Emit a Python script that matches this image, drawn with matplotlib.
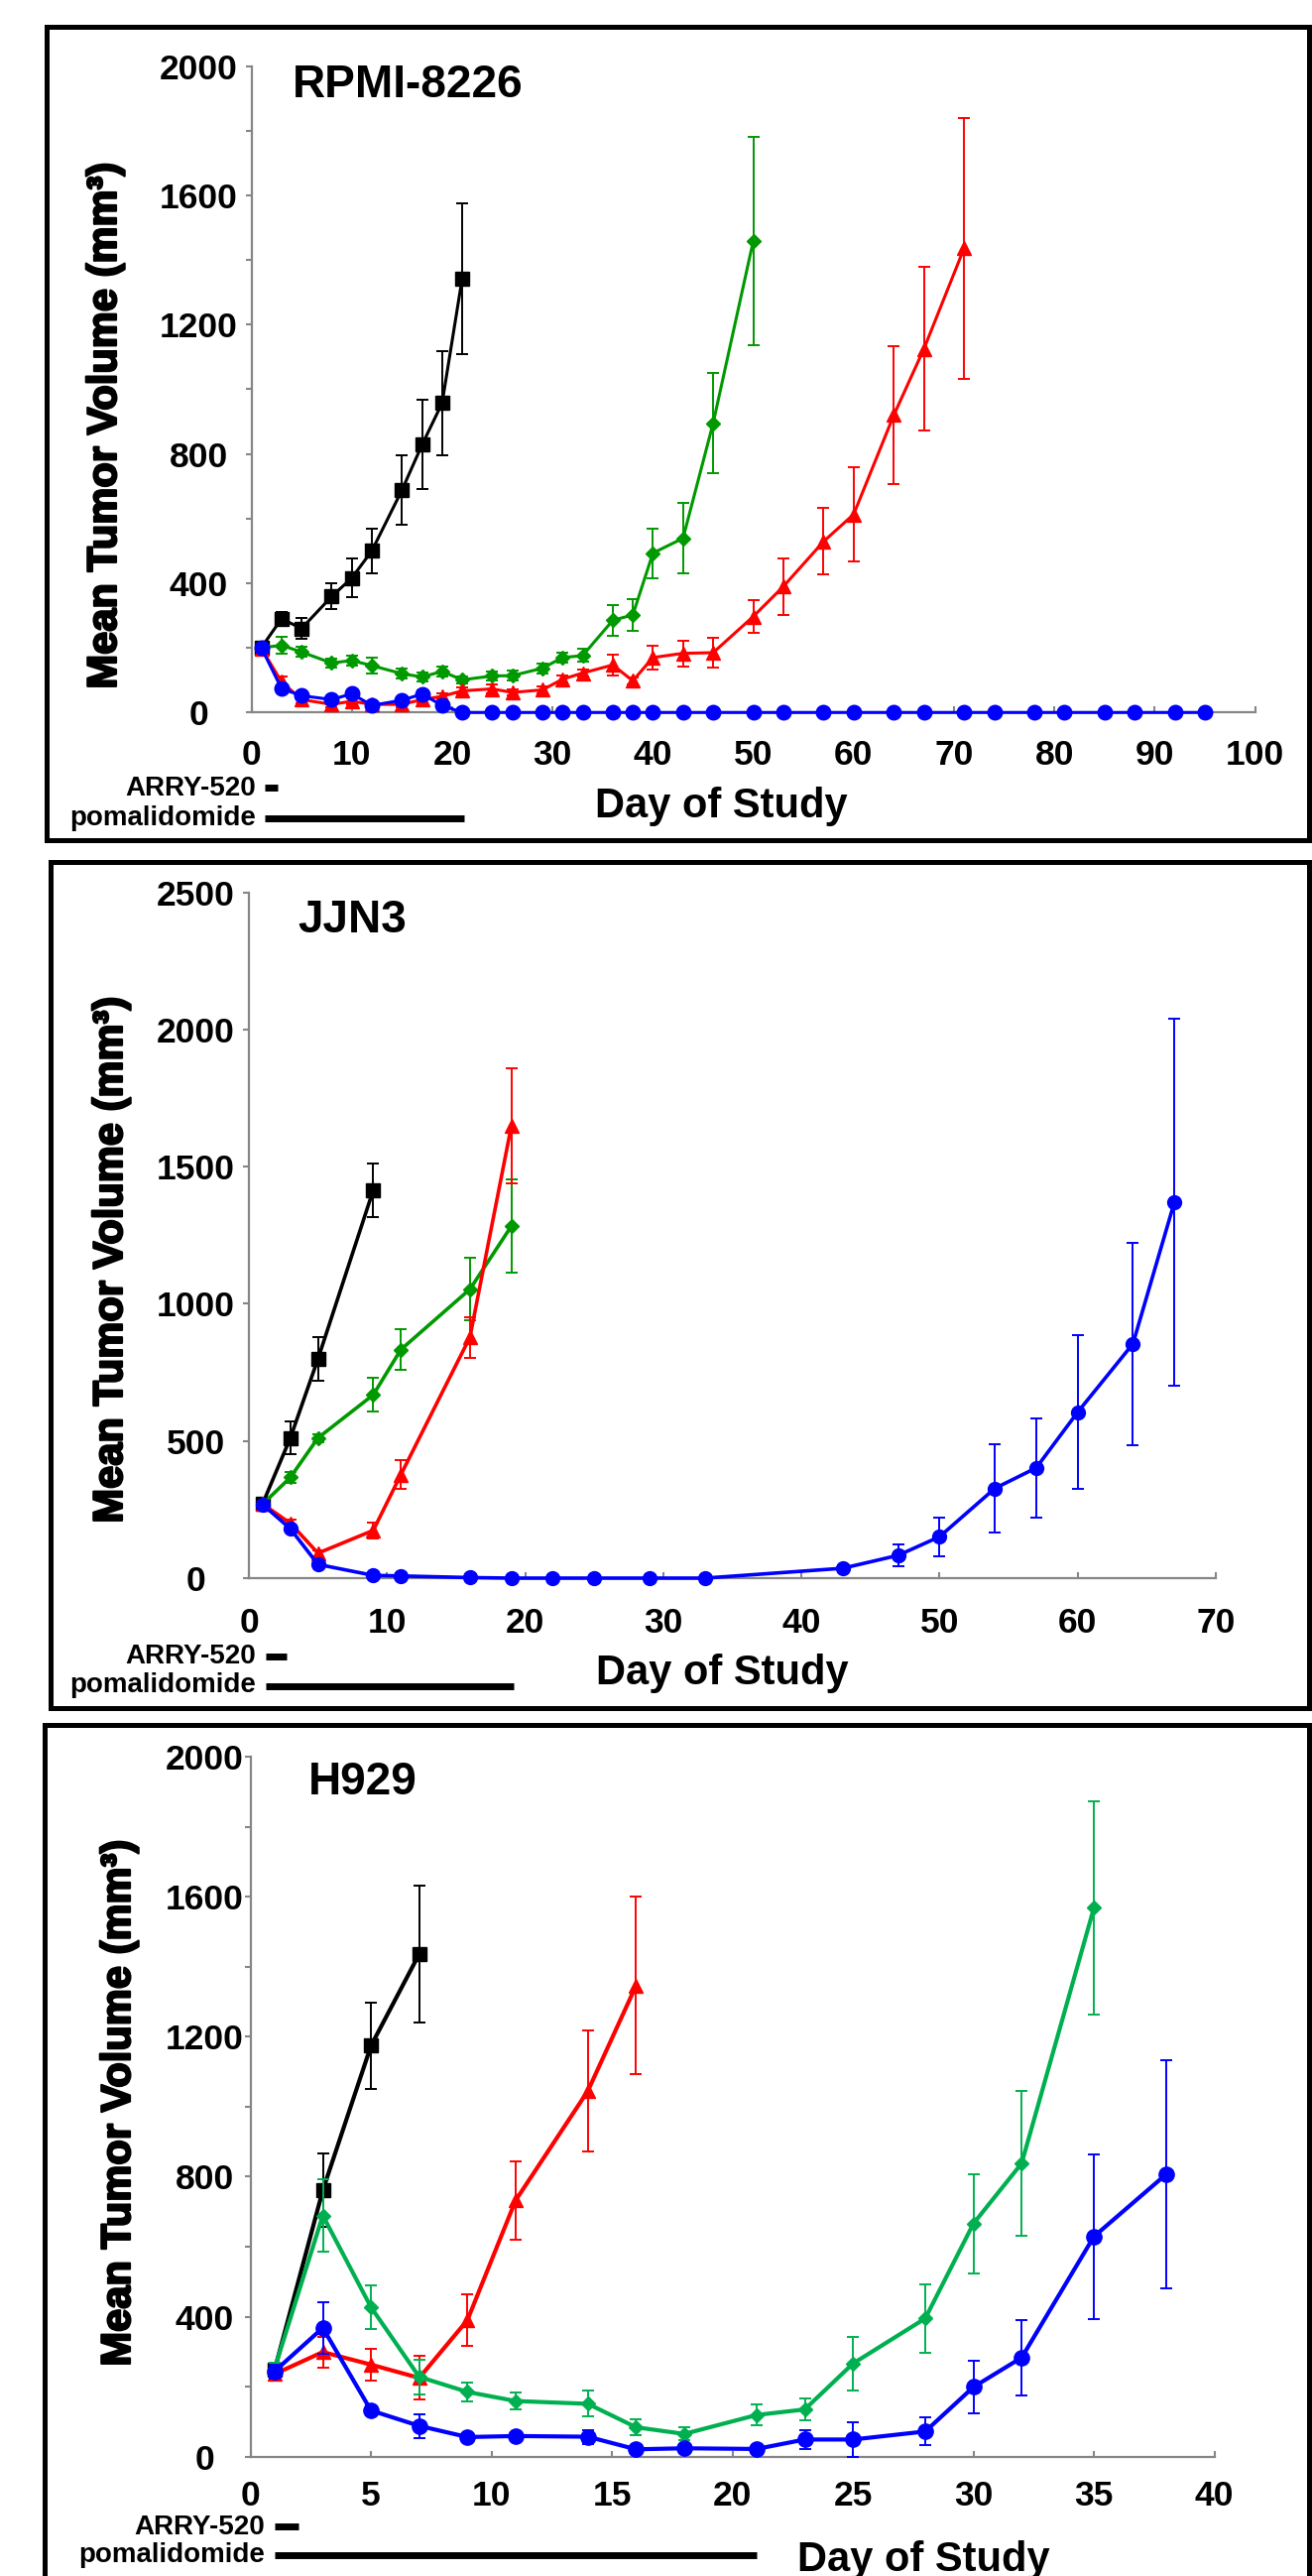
import matplotlib
matplotlib.use("Agg")
import matplotlib.pyplot as plt
import matplotlib.patheffects as pe
from matplotlib.patches import Rectangle
from matplotlib.ticker import MultipleLocator
from matplotlib.transforms import blended_transform_factory

plt.rcParams['font.family'] = ['Liberation Sans', 'DejaVu Sans']
plt.rcParams['font.weight'] = 'bold'

W, H = 1323, 2597
GREY = '#868686'

# ---------------- data ----------------
# Panel 1: RPMI-8226
p1_black_days = [1, 3, 5, 8, 10, 12, 15, 17, 19, 21]
p1_black = [201, 290, 260, 359, 416, 500, 688, 828, 957, 1343]
p1_black_err = [10, 20, 33, 40, 60, 70, 108, 138, 162, 233]

p1_green_days = [1, 3, 5, 8, 10, 12, 15, 17, 19, 21, 24, 26, 29, 31, 33, 36, 38, 40, 43, 46, 50]
p1_green = [200, 208, 187, 153, 161, 145, 120, 110, 127, 101, 113, 114, 137, 170, 176, 285, 302, 493, 539, 895, 1459]
p1_green_err = [10, 25, 15, 15, 15, 25, 15, 15, 15, 10, 15, 15, 15, 15, 20, 47, 50, 77, 108, 156, 322]

p1_red_days = [1, 3, 5, 8, 10, 12, 15, 17, 19, 21, 24, 26, 29, 31, 33, 36, 38, 40, 43, 46, 50, 53, 57, 60, 64, 67, 71]
p1_red = [198, 95, 40, 25, 35, 25, 25, 40, 50, 67, 73, 62, 70, 103, 122, 147, 98, 170, 183, 185, 297, 390, 529, 613, 920, 1125, 1436]
p1_red_err = [10, 15, 10, 10, 10, 10, 10, 10, 10, 10, 15, 10, 10, 10, 10, 33, 10, 38, 40, 45, 50, 88, 103, 145, 214, 254, 403]

p1_blue_days = [1, 3, 5, 8, 10, 12, 15, 17, 19, 21, 24, 26, 29, 31, 33, 36, 38, 40, 43, 46, 50,
                53, 57, 60, 64, 67, 71, 74, 78, 81, 85, 88, 92, 95]
p1_blue = [200, 74, 52, 40, 58, 22, 38, 57, 22, 0, 0, 0, 0, 0, 0, 0, 0, 0, 0, 0, 0,
           0, 0, 0, 0, 0, 0, 0, 0, 0, 0, 0, 0, 0]
p1_blue_err = [8, 8, 8, 8, 10, 8, 8, 10, 8, 0, 0, 0, 0, 0, 0, 0, 0, 0, 0, 0, 0,
               0, 0, 0, 0, 0, 0, 0, 0, 0, 0, 0, 0, 0]

# Panel 2: JJN3
p2_black_days = [1, 3, 5, 9]
p2_black = [272, 511, 799, 1414]
p2_black_err = [10, 59, 81, 97]

p2_green_days = [1, 3, 5, 9, 11, 16, 19]
p2_green = [270, 367, 511, 668, 833, 1053, 1283]
p2_green_err = [10, 20, 15, 62, 74, 113, 170]

p2_red_days = [1, 3, 5, 9, 11, 16, 19]
p2_red = [270, 200, 91, 174, 377, 878, 1648]
p2_red_err = [10, 15, 10, 30, 52, 74, 210]

p2_blue_days = [1, 3, 5, 9, 11, 16, 19, 22, 25, 29, 33, 43, 47, 50, 54, 57, 60, 64, 67]
p2_blue = [268, 180, 50, 10, 8, 2, 0, 0, 0, 0, 0, 36, 83, 151, 327, 402, 605, 854, 1370]
p2_blue_err = [8, 10, 8, 3, 3, 0, 0, 0, 0, 0, 0, 5, 40, 70, 160, 180, 280, 369, 668]

# Panel 3: H929
p3_black_days = [1, 3, 5, 7]
p3_black = [248, 761, 1174, 1436]
p3_black_err = [15, 105, 123, 196]

p3_red_days = [1, 3, 5, 7, 9, 11, 14, 16]
p3_red = [236, 299, 263, 225, 390, 732, 1045, 1346]
p3_red_err = [15, 44, 45, 62, 73, 111, 174, 253]

p3_green_days = [1, 3, 5, 7, 9, 11, 14, 16, 18, 21, 23, 25, 28, 30, 32, 35]
p3_green = [252, 689, 427, 228, 185, 159, 151, 84, 65, 119, 135, 266, 395, 666, 838, 1568]
p3_green_err = [15, 104, 63, 50, 28, 24, 37, 22, 18, 30, 32, 76, 97, 142, 208, 305]

p3_blue_days = [1, 3, 5, 7, 9, 11, 14, 16, 18, 21, 23, 25, 28, 30, 32, 35, 38]
p3_blue = [244, 368, 132, 88, 56, 59, 57, 21, 24, 22, 49, 49, 72, 199, 283, 629, 807]
p3_blue_err = [20, 74, 15, 34, 8, 8, 20, 5, 5, 5, 28, 50, 40, 76, 107, 235, 326]

# dosing schedules (day ranges)
p1_arry = [1.3, 2.6]
p1_poma = [1.3, 21.2]
p2_arry = [1.2, 2.7]
p2_poma = [1.2, 19.2]
p3_arry = [1.0, 2.0]
p3_poma = [1.0, 21.0]

titles = ['RPMI-8226', 'JJN3', 'H929']
ylabel = 'Mean Tumor Volume (mm³)'
xlabel = 'Day of Study'

# ---------------- figure ----------------
fig = plt.figure(figsize=(W / 100, H / 100), dpi=100)


def fx(x):
    return x / W


def fy(y):
    return 1 - y / H


def make_axes(left, right, y0, ytop):
    return fig.add_axes([fx(left), fy(y0), (right - left) / W, (y0 - ytop) / H])


def frame(left, top, right, bottom):
    fig.add_artist(Rectangle((fx(left), fy(bottom)), (right - left) / W, (bottom - top) / H,
                             transform=fig.transFigure, fill=False, edgecolor='black',
                             linewidth=3.6, joinstyle='miter'))


def series(ax, days, vals, err, color, marker, ms, lw, z):
    ax.errorbar(days, vals, yerr=err, color=color, marker=marker, markersize=ms,
                markeredgecolor=color, markerfacecolor=color, linewidth=lw,
                elinewidth=1.4, capsize=4.5, capthick=1.4, clip_on=False, zorder=z)


def style(ax, xmax, xstep, ymax, ymaj, ymin, ypad, xpad):
    ax.set_xlim(0, xmax)
    ax.set_ylim(0, ymax)
    for s in ['top', 'right']:
        ax.spines[s].set_visible(False)
    for s in ['left', 'bottom']:
        ax.spines[s].set_color(GREY)
        ax.spines[s].set_linewidth(1.6)
    ax.xaxis.set_major_locator(MultipleLocator(xstep))
    ax.yaxis.set_major_locator(MultipleLocator(ymaj))
    if ymin:
        ax.yaxis.set_minor_locator(MultipleLocator(ymin))
    ax.tick_params(axis='y', which='both', direction='out', length=4, width=1.5,
                   color=GREY, labelsize=25.5, pad=ypad)
    ax.tick_params(axis='x', which='both', direction='in', length=4, width=1.5,
                   color=GREY, labelsize=25.5, pad=xpad)
    ax.set_facecolor('none')
    plt.setp(ax.get_yticklabels(), ha='center', fontweight='bold')
    plt.setp(ax.get_xticklabels(), fontweight='bold')


def dosing(ax, arry, poma, y_arry, y_poma, text_right, ty_arry, ty_poma):
    tr = blended_transform_factory(ax.transData, fig.transFigure)
    ax.plot(arry, [fy(y_arry)] * 2, transform=tr, color='black', lw=5,
            solid_capstyle='butt', clip_on=False)
    ax.plot(poma, [fy(y_poma)] * 2, transform=tr, color='black', lw=5,
            solid_capstyle='butt', clip_on=False)
    fig.text(fx(text_right), fy(ty_arry), 'ARRY-520', ha='right', va='baseline',
             fontsize=20, fontweight='bold')
    fig.text(fx(text_right), fy(ty_poma), 'pomalidomide', ha='right', va='baseline',
             fontsize=20, fontweight='bold')


def y_label(x, y):
    fig.text(fx(x), fy(y), ylabel, rotation=90, ha='center', va='center', fontsize=30,
             fontweight='bold',
             path_effects=[pe.withStroke(linewidth=1.6, foreground='black')])


# ---- Panel 1 ----
frame(47, 27, 1320, 847)
ax1 = make_axes(253.5, 1265.7, 718.3, 66.5)
series(ax1, p1_black_days, p1_black, p1_black_err, 'black', 's', 10, 2.2, 3)
series(ax1, p1_green_days, p1_green, p1_green_err, '#009900', 'D', 7.5, 2.2, 4)
series(ax1, p1_red_days, p1_red, p1_red_err, '#ff0000', '^', 9.5, 2.2, 5)
series(ax1, p1_blue_days, p1_blue, p1_blue_err, '#0000ff', 'o', 10.5, 2.2, 6)
style(ax1, 100, 10, 2000, 400, 200, 34.5, 19.5)
fig.text(fx(295), fy(98), titles[0], ha='left', va='baseline', fontsize=33, fontweight='bold')
y_label(106, 429)
fig.text(fx(727), fy(824), xlabel, ha='center', va='baseline', fontsize=30, fontweight='bold')
dosing(ax1, p1_arry, p1_poma, 794, 825, 258, 802, 832)

# ---- Panel 2 ----
frame(51, 869, 1320, 1722)
ax2 = make_axes(251, 1226, 1591, 899.5)
series(ax2, p2_black_days, p2_black, p2_black_err, 'black', 's', 10, 2.6, 3)
series(ax2, p2_green_days, p2_green, p2_green_err, '#009900', 'D', 7, 2.6, 4)
series(ax2, p2_red_days, p2_red, p2_red_err, '#ff0000', '^', 9.5, 2.6, 5)
series(ax2, p2_blue_days, p2_blue, p2_blue_err, '#0000ff', 'o', 10, 2.6, 6)
style(ax2, 70, 10, 2500, 500, None, 34.5, 21)
fig.text(fx(300), fy(940), titles[1], ha='left', va='baseline', fontsize=33, fontweight='bold')
y_label(112, 1270)
fig.text(fx(728), fy(1698), xlabel, ha='center', va='baseline', fontsize=30, fontweight='bold')
dosing(ax2, p2_arry, p2_poma, 1670, 1700, 258, 1677, 1706)

# ---- Panel 3 ----
frame(45, 1739, 1320, 2640)
ax3 = make_axes(252.6, 1224.6, 2476.7, 1771)
series(ax3, p3_black_days, p3_black, p3_black_err, 'black', 's', 10.5, 3, 3)
series(ax3, p3_red_days, p3_red, p3_red_err, '#ff0000', '^', 10, 3, 4)
series(ax3, p3_green_days, p3_green, p3_green_err, '#00b050', 'D', 7.5, 3, 5)
series(ax3, p3_blue_days, p3_blue, p3_blue_err, '#0000ff', 'o', 11, 3, 6)
style(ax3, 40, 5, 2000, 400, 200, 29.5, 16.5)
fig.text(fx(311), fy(1809), titles[2], ha='left', va='baseline', fontsize=33, fontweight='bold')
y_label(120, 2120)
fig.text(fx(931), fy(2592), xlabel, ha='center', va='baseline', fontsize=30, fontweight='bold')
dosing(ax3, p3_arry, p3_poma, 2547, 2576, 267, 2555, 2583)

fig.savefig('out.png', dpi=100, facecolor='white')
